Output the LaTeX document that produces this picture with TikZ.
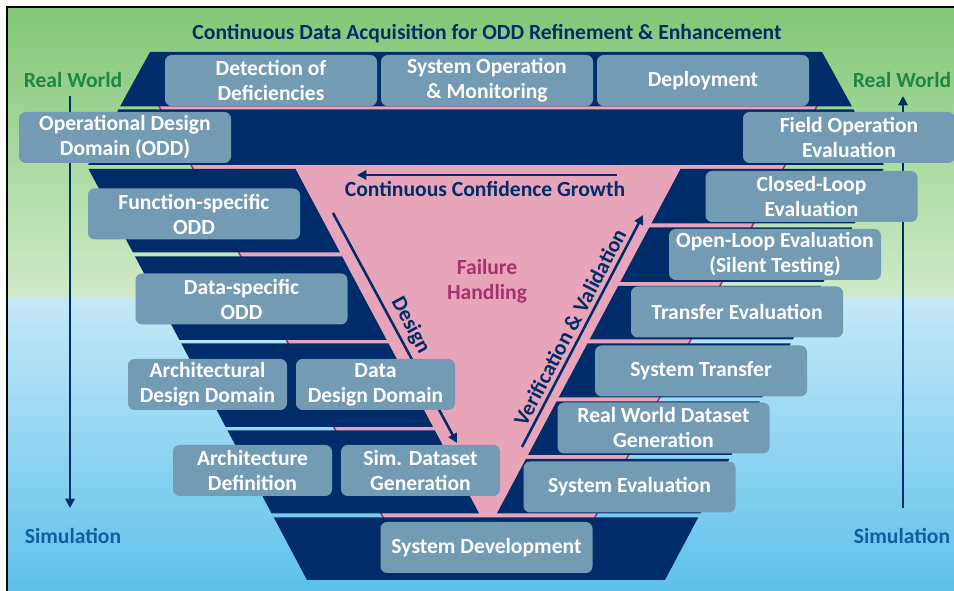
\documentclass[tikz,border=0pt]{standalone}
\usepackage{fontspec}
\setmainfont{Carlito}
\usetikzlibrary{arrows.meta}
\definecolor{navy}{RGB}{0,45,106}
\definecolor{boxblue}{RGB}{115,155,180}
\definecolor{pinkfill}{RGB}{232,165,185}
\definecolor{magline}{RGB}{160,45,105}
\definecolor{failtxt}{RGB}{165,50,110}
\definecolor{rwgreen}{RGB}{30,135,70}
\definecolor{simblue}{RGB}{15,95,160}
\definecolor{gtop}{RGB}{130,199,118}
\definecolor{gbot}{RGB}{206,235,201}
\definecolor{btop}{RGB}{197,233,248}
\definecolor{bbot}{RGB}{93,193,234}
\newcommand{\leftband}[2]{\fill[navy] ({88+0.5316*(#1-168)},#1) -- ({295+0.533*(#1-168)},#1) -- ({295+0.533*(#2-168)},#2) -- ({88+0.5316*(#2-168)},#2) -- cycle;}
\newcommand{\rightband}[2]{\fill[navy] ({681-0.533*(#1-168)},#1) -- ({884-0.5316*(#1-168)},#1) -- ({884-0.5316*(#2-168)},#2) -- ({681-0.533*(#2-168)},#2) -- cycle;}
\begin{document}
\begin{tikzpicture}[x=0.75pt,y=-0.75pt,
  stage/.style={fill=boxblue, rounded corners=5pt, text=white,
    font=\fontsize{16.2}{18.75}\selectfont\bfseries, align=center,
    inner sep=0pt, minimum height=38.25pt},
  wide/.style={minimum width=159pt},
  narrow/.style={minimum width=119.25pt},
  lbl/.style={font=\fontsize{16.2}{18.75}\selectfont\bfseries, inner sep=0pt},
  navyarrow/.style={draw=navy, line width=1.9pt, -{Triangle[length=7pt,width=7pt]}}]
\useasboundingbox (0,0) rectangle (954,591);
% background
\shade[top color=gtop, bottom color=gbot] (7,7) rectangle (954,298);
\shade[top color=btop, bottom color=bbot] (7,298) rectangle (954,591);
\draw[black, line width=1.1pt] (7,591) -- (7,7) -- (954,7);
% pink triangle behind
\fill[pinkfill]
  ({160+0.545*(100-108)},100) -- ({816-0.54*(100-108)},100) --
  ({816-0.54*(578-108)},578) -- ({160+0.545*(578-108)},578) -- cycle;
\draw[magline, line width=1.1pt] ({160+0.545*(100-108)},100) -- ({160+0.545*(578-108)},578);
\draw[magline, line width=1.1pt] ({816-0.54*(100-108)},100) -- ({816-0.54*(578-108)},578);
% top bands
\fill[navy] (150,52) -- (822,52) -- (852,106.5) -- (120,106.5) -- cycle;
\fill[navy] (118.5,109.5) -- (853.5,109.5) -- (884,165) -- (88,165) -- cycle;
% left arm
\leftband{169}{252.5}
\leftband{256.5}{340}
\leftband{343.5}{427}
\leftband{430.5}{513.5}
% right arm
\rightband{169}{223.5}
\rightband{227.5}{282}
\rightband{286}{339.5}
\rightband{343.5}{397.5}
\rightband{401.5}{455}
\rightband{459}{513.5}
% bottom band
\fill[navy] ({88+0.5316*(517.5-168)},517.5) -- ({884-0.5316*(517.5-168)},517.5) -- (665,580) -- (307,580) -- cycle;
% real world / simulation arrows
\coordinate (lt) at (70,96);
\coordinate (lb) at (70,508);
\coordinate (rt) at (903,96);
\coordinate (rb) at (903,508);
\draw[navyarrow] (lt) -- (lb);
\draw[navyarrow] (rb) -- (rt);
% design arrow (behind boxes)
\coordinate (ds) at (333,213);
\coordinate (de) at (457,443);
\draw[navyarrow] (ds) -- (de) node[pos=0.52, sloped, above=3pt, lbl, text=navy] (dlab) {Design};
% boxes
\node[stage, wide] (det) at (271,80.5) {Detection of\\Deficiencies};
\node[stage, wide] (sysop) at (487,80.5) {System Operation\\\& Monitoring};
\node[stage, wide] (deploy) at (703,80.5) {Deployment};
\node[stage, wide] (odd) at (125,137.5) {Operational Design\\Domain (ODD)};
\node[stage, wide] (field) at (849,137.5) {Field Operation\\Evaluation};
\node[stage, wide] (closed) at (811.5,196.5) {Closed-Loop\\Evaluation};
\node[stage, wide] (open) at (775,254.5) {Open-Loop Evaluation\\(Silent Testing)};
\node[stage, wide] (func) at (194,214) {Function-specific\\ODD};
\node[stage, wide] (dataodd) at (241.5,299) {Data-specific\\ODD};
\node[stage, wide] (transeval) at (737,312) {Transfer Evaluation};
\node[stage, wide] (systrans) at (701,371) {System Transfer};
\node[stage, wide] (rwd) at (663.5,428) {Real World Dataset\\Generation};
\node[stage, wide] (syseval) at (629.5,487) {System Evaluation};
\node[stage, narrow] (archdd) at (207.5,384.5) {Architectural\\Design Domain};
\node[stage, narrow] (datadd) at (375.5,384.5) {Data\\Design Domain};
\node[stage, narrow] (archdef) at (252.5,470.5) {Architecture\\Definition};
\node[stage, narrow] (simds) at (420.5,470.5) {Sim. Dataset\\Generation};
\node[stage, wide] (sysdev) at (486.5,547.5) {System Development};
% labels
\node[lbl, text=navy] (title) at (487,34) {Continuous Data Acquisition for ODD Refinement \& Enhancement};
\node[lbl, text=rwgreen] (rwl) at (73,80) {Real World};
\node[lbl, text=rwgreen] (rwr) at (902,80) {Real World};
\node[lbl, text=simblue] (siml) at (73,536) {Simulation};
\node[lbl, text=simblue] (simr) at (902,536) {Simulation};
\node[lbl, text=failtxt, align=center, font=\fontsize{16.2}{18.75}\selectfont\bfseries] (fail) at (487,281) {Failure\\Handling};
% continuous confidence growth
\coordinate (cgs) at (617,175);
\coordinate (cge) at (357,175);
\draw[navyarrow] (cgs) -- (cge);
\node[lbl, text=navy] (cg) at (485,189) {Continuous Confidence Growth};
% V&V arrow
\coordinate (vs) at (522,447);
\coordinate (ve) at (643,215);
\draw[navyarrow] (vs) -- (ve) node[pos=0.49, sloped, above=3pt, lbl, text=navy] (vlab) {Verification \& Validation};
\end{tikzpicture}
\end{document}
